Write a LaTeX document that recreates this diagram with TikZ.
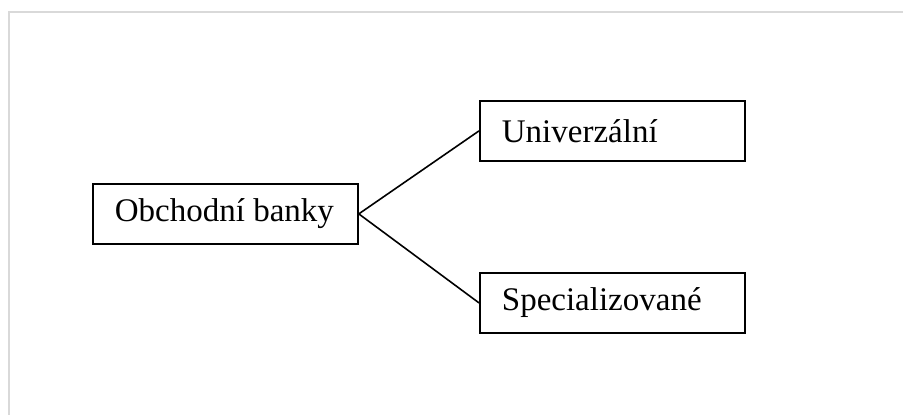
\documentclass[tikz,border=0pt]{standalone}
\usepackage{fontspec}
\setmainfont{Liberation Serif}
\newcommand{\boxtext}[1]{\makebox[221pt][l]{#1}}
\begin{document}
\begin{tikzpicture}[x=1pt,y=-1pt,
  box/.style={draw=black, line width=1.8pt, anchor=north west, inner ysep=0pt, inner xsep=22pt,
    minimum width=265pt, minimum height=60pt, font=\fontsize{33}{38}\selectfont},
  link/.style={draw=black, line width=1.6pt}]
\useasboundingbox (0,0) rectangle (903,415);
\draw[color={rgb,255:red,217;green,217;blue,217}, line width=2pt] (9,416) -- (9,12) -- (904,12);
\node[box] (obch) at (92,183) {\boxtext{Obchodní banky}};
\node[box] (univ) at (479,100) {\boxtext{Univerzální}};
\node[box] (spec) at (479,272) {\boxtext{Specializované}};
\draw[link] (obch.east) -- (univ.west);
\draw[link] (obch.east) -- (spec.west);
\end{tikzpicture}
\end{document}
